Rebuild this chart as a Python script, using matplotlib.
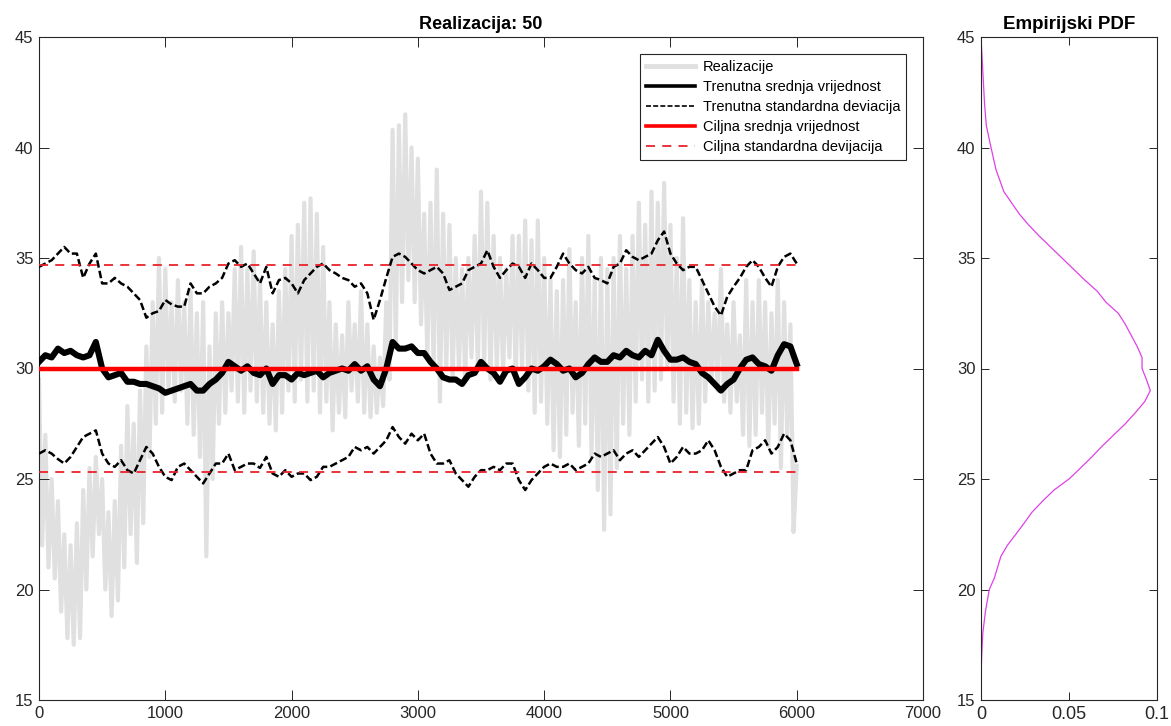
import numpy as np
import matplotlib
matplotlib.use("Agg")
import matplotlib.pyplot as plt

plt.rcParams['font.family'] = ['Liberation Sans', 'DejaVu Sans']

# ---------------- data ----------------
step = 50
# realisation: local high / low values every 50 samples (0..5950)
real_hi = [29.5, 27, 25, 24, 22.5, 22, 23, 24.5, 25.5, 26,
           25, 23.5, 24, 26.5, 28.3, 27.5, 29, 31, 33, 35,
           34.5, 33, 34, 33, 33.5, 32.5, 33, 31, 32.5, 33,
           32.5, 34.5, 35.5, 34.5, 35.3, 34, 33, 32, 33.5, 34.5,
           36, 36.5, 37.5, 37.7, 37, 35.5, 33, 32, 31.5, 33,
           32, 33.5, 32, 31, 30.5, 33, 40.8, 41, 41.5, 40,
           39.5, 37, 37.5, 39, 37, 36.5, 35, 34.5, 35, 36,
           38, 37.5, 36, 35, 34.5, 36, 36, 36.7, 35.8, 36.7,
           35, 34, 33.5, 34, 35.4, 33, 35, 36, 34, 35,
           34.5, 35, 36, 34.5, 36, 37.5, 36.5, 38, 37.5, 38.4,
           36.5, 35, 36.8, 34, 33, 34, 33, 32.5, 34.5, 32,
           33, 31.5, 34, 33, 34, 33, 32.5, 34, 33, 32]
real_lo = [22, 21, 20.5, 19, 17.8, 17.5, 17.8, 20, 21.5, 22.5,
           20, 18.8, 19.5, 21, 22.5, 21.2, 23, 26, 27.5, 28,
           29, 28.5, 29, 27.5, 27, 26, 21.5, 25, 27.5, 28,
           29, 28.5, 28, 29, 28.5, 28, 27.5, 27.2, 28, 29,
           28.5, 29.5, 28.5, 29, 28, 28.5, 27.2, 28, 27.8, 29,
           28.5, 28, 27.8, 28, 28.3, 29.5, 31, 33, 34, 33,
           32, 30.5, 30, 28.5, 30, 29.5, 30, 29.5, 30.5, 30,
           30, 29.5, 30, 29.8, 30.5, 29.5, 30, 29, 28, 28.5,
           27.5, 26.3, 26, 27, 28, 26.5, 27.5, 26, 24.5, 22.7,
           23.4, 25.5, 27.5, 27, 28.5, 29.5, 28.5, 29, 29.5, 30,
           28.5, 27.5, 28, 27.3, 27.5, 28.5, 29.5, 29, 28.5, 28,
           28.5, 27, 26.5, 27, 28, 26.5, 27.5, 25.5, 27, 22.6]

# running mean / running mean +- std every 50 samples (0..6000)
run_mean = [30.3, 30.6, 30.5, 30.9, 30.7, 30.8, 30.6, 30.5, 30.6, 31.2,
            30.0, 29.6, 29.7, 29.8, 29.4, 29.4, 29.3, 29.3, 29.2, 29.1,
            28.9, 29.0, 29.1, 29.2, 29.3, 29.0, 29.0, 29.3, 29.5, 29.8,
            30.3, 30.1, 29.9, 30.1, 29.8, 29.7, 30.0, 29.3, 29.7, 29.7,
            29.5, 29.8, 29.7, 29.8, 29.9, 29.6, 29.8, 29.9, 30.0, 29.9,
            30.2, 29.9, 30.1, 29.5, 29.2, 30.0, 31.2, 30.9, 30.9, 31.0,
            30.7, 30.7, 30.3, 30.0, 29.6, 29.5, 29.5, 29.3, 29.7, 29.8,
            30.3, 30.0, 29.8, 29.4, 29.9, 30.0, 29.3, 29.6, 30.0, 29.9,
            30.1, 30.4, 30.2, 29.9, 30.0, 29.6, 29.8, 30.2, 30.5, 30.3,
            30.3, 30.6, 30.5, 30.8, 30.6, 30.5, 30.8, 30.6, 31.3, 30.8,
            30.4, 30.4, 30.5, 30.3, 30.2, 29.8, 29.6, 29.3, 29.0, 29.3,
            29.5, 30.0, 30.4, 30.5, 30.2, 30.1, 29.9, 30.6, 31.1, 31.0,
            30.2]
run_std_hi = [34.6, 34.75, 34.9, 35.2, 35.5, 35.2, 35.2, 34.1, 34.75, 35.2,
              33.85, 33.85, 34.1, 33.85, 33.7, 33.4, 33.1, 32.3, 32.5, 32.6,
              33.1, 32.9, 32.8, 32.8, 33.85, 33.4, 33.4, 33.7, 33.85, 34.1,
              34.75, 34.9, 34.6, 34.75, 34.3, 33.85, 34.6, 33.4, 34.0, 34.1,
              33.85, 33.4, 34.0, 34.3, 34.6, 34.75, 34.45, 34.3, 34.1, 34.0,
              33.7, 33.85, 33.4, 32.2, 33.1, 34.1, 35.05, 35.2, 35.05, 34.75,
              34.45, 34.3, 34.45, 34.6, 34.3, 33.55, 33.7, 33.85, 34.45, 34.6,
              34.75, 35.35, 34.6, 34.1, 34.45, 34.75, 34.6, 34.1, 34.75, 34.45,
              34.1, 34.1, 34.6, 35.2, 34.75, 34.45, 34.3, 34.6, 34.1, 34.0,
              33.85, 34.6, 34.75, 35.35, 35.05, 34.9, 35.05, 35.2, 35.8, 36.2,
              35.2, 34.75, 34.45, 34.6, 34.6, 34.0, 33.4, 32.8, 32.4, 33.25,
              33.7, 34.1, 34.6, 34.9, 34.6, 34.1, 33.7, 34.6, 35.05, 35.2,
              34.75]
run_std_lo = [26.15, 26.3, 26.15, 25.9, 25.7, 26.0, 26.45, 26.9, 27.05, 27.2,
              26.15, 25.7, 25.55, 25.85, 25.4, 25.25, 25.85, 26.45, 26.15, 25.55,
              25.1, 24.95, 25.55, 25.7, 25.4, 25.1, 24.8, 25.25, 25.7, 25.7,
              26.15, 25.4, 25.55, 25.7, 25.7, 25.5, 26.0, 25.25, 25.1, 25.4,
              25.1, 25.25, 25.25, 24.95, 25.1, 25.55, 25.55, 25.7, 25.85, 26.0,
              26.45, 26.3, 26.45, 26.15, 26.45, 26.75, 27.35, 26.9, 26.6, 27.05,
              26.75, 27.05, 26.15, 25.7, 25.7, 25.85, 25.25, 24.95, 24.65, 25.1,
              25.4, 25.4, 25.55, 25.4, 25.7, 25.7, 24.95, 24.5, 24.95, 25.25,
              25.55, 25.7, 25.55, 25.55, 25.7, 25.4, 25.55, 25.7, 26.15, 26.0,
              26.15, 26.3, 25.85, 26.15, 26.3, 26.0, 26.3, 26.6, 26.9, 26.45,
              25.7, 26.0, 26.45, 26.15, 26.15, 26.3, 26.75, 26.3, 25.55, 25.1,
              25.25, 25.4, 25.4, 26.3, 26.45, 26.75, 26.15, 26.45, 27.05, 26.75,
              25.7]

target_mean = 30.0
target_std = 4.7
n_samples = 6000
realization_no = 50

# empirical pdf (value axis, density)
pdf_y = [15, 16, 17, 18, 19, 20, 20.5, 21, 21.5, 22, 22.5, 23, 23.5, 24, 24.5,
         25, 25.5, 26, 26.5, 27, 27.5, 28, 28.5, 29, 29.5, 30, 30.5, 31, 32,
         32.5, 33, 33.5, 34, 35, 36, 36.5, 37, 38, 39, 40, 41, 42, 43.5, 45]
pdf_v = [0, 0, 0.0004, 0.001, 0.0025, 0.0047, 0.0075, 0.0094, 0.0113, 0.015,
         0.0198, 0.0245, 0.029, 0.035, 0.0415, 0.05, 0.0566, 0.063, 0.069,
         0.0755, 0.082, 0.0877, 0.093, 0.0962, 0.094, 0.0915, 0.0915, 0.0887,
         0.082, 0.078, 0.071, 0.066, 0.059, 0.046, 0.033, 0.027, 0.0217, 0.013,
         0.0085, 0.0057, 0.003, 0.002, 0.001, 0]

# ---------------- figure ----------------
W, H = 1171, 726
fig = plt.figure(figsize=(W / 100, H / 100), dpi=100)
axc = '#262626'

def px_axes(x0, y0, x1, y1):
    return fig.add_axes([x0 / W, 1 - y1 / H, (x1 - x0) / W, (y1 - y0) / H])

ax = px_axes(39, 37, 923, 700)
ax2 = px_axes(981, 37, 1157, 700)

# realisation zig-zag
n = len(real_hi)
xr = np.empty(2 * n)
yr = np.empty(2 * n)
xr[0::2] = np.arange(n) * step
xr[1::2] = np.arange(n) * step + step / 2
yr[0::2] = real_hi
yr[1::2] = real_lo
xr = np.append(xr, n_samples)
yr = np.append(yr, real_lo[-1] + 3)

xm = np.arange(len(run_mean)) * step

ax.plot(xr, yr, color='#e0e0e0', lw=3.0, label='Realizacije', zorder=1)
ax.plot(xm, run_mean, color='black', lw=4.4, label='Trenutna srednja vrijednost', zorder=3)
ax.plot(xm, run_std_hi, color='black', lw=1.8, ls=(0, (3, 1.3)),
        label='Trenutna standardna deviacija', zorder=3)
ax.plot(xm, run_std_lo, color='black', lw=1.8, ls=(0, (3, 1.3)), zorder=3)
ax.plot([0, n_samples], [target_mean, target_mean], color='#ff0000', lw=3.2,
        label='Ciljna srednja vrijednost', zorder=4)
ax.plot([0, n_samples], [target_mean + target_std] * 2, color='#e8232a', lw=1.3,
        ls=(0, (5, 4)), label='Ciljna standardna devijacija', zorder=4)
ax.plot([0, n_samples], [target_mean - target_std] * 2, color='#e8232a', lw=1.3,
        ls=(0, (5, 4)), zorder=4)

ax.set_xlim(0, 7000)
ax.set_ylim(15, 45)
ax.set_xticks(np.arange(0, 7001, 1000))
ax.set_yticks(np.arange(15, 46, 5))
ax.set_title(f'Realizacija: {realization_no}', fontsize=13, fontweight='bold',
             color='black', pad=6)

leg = ax.legend(loc='upper right', bbox_to_anchor=((906 - 39) / 884, (700 - 54) / 663),
                fontsize=10.5, frameon=True, fancybox=False, framealpha=1,
                edgecolor=axc, handlelength=3.4, labelspacing=0.42,
                borderpad=0.4, handletextpad=0.5, borderaxespad=0)
leg.get_frame().set_linewidth(0.8)
leg.get_lines()[0].set_linewidth(3.5)
leg.get_lines()[1].set_linewidth(2.6)
leg.get_lines()[2].set_linewidth(1.2)
leg.get_lines()[3].set_linewidth(2.6)

ax2.plot(pdf_v, pdf_y, color='#e040e8', lw=0.9)
ax2.set_xlim(0, 0.1)
ax2.set_ylim(15, 45)
ax2.set_xticks([0, 0.05, 0.1])
ax2.set_xticklabels(['0', '0.05', '0.1'])
ax2.set_yticks(np.arange(15, 46, 5))
ax2.set_title('Empirijski PDF', fontsize=13.5, fontweight='bold', color='black', pad=6)

for a, tl, xs in ((ax, 7, 12), (ax2, 5.5, 13)):
    a.tick_params(direction='in', top=True, right=True, length=tl, width=0.7,
                  colors=axc, labelsize=12, pad=4)
    a.tick_params(axis='x', labelsize=xs)
    for s in a.spines.values():
        s.set_color(axc)
        s.set_linewidth(0.8)

fig.savefig('out.png', dpi=100)
